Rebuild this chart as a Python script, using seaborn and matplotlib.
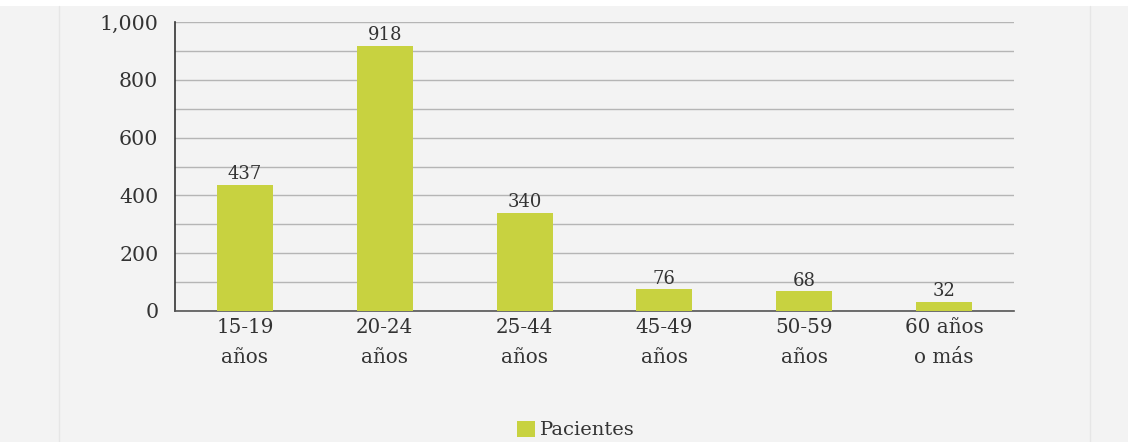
import matplotlib
matplotlib.use("Agg")
import matplotlib.pyplot as plt
import seaborn as sns
import pandas as pd
from matplotlib.ticker import MultipleLocator, FuncFormatter

# Data
grupos = ["15-19\naños", "20-24\naños", "25-44\naños", "45-49\naños", "50-59\naños", "60 años\no más"]
pacientes = [437, 918, 340, 76, 68, 32]

df = pd.DataFrame({"grupo": grupos, "pacientes": pacientes})

sns.set_style("white")
plt.rcParams['font.family'] = ['DejaVu Serif']

bg = "#f3f3f3"
bar_color = "#c8d240"
txt = "#333333"

fig = plt.figure(figsize=(11.28, 4.42), dpi=100, facecolor="white")
# gray panel
fig.patches.append(plt.Rectangle((0, 0), 1, 1 - 6/442, transform=fig.transFigure,
                                 facecolor=bg, edgecolor="none", zorder=-10))
for xline in [59/1128, 1090/1128]:
    fig.lines.append(plt.Line2D([xline, xline], [0, 1 - 6/442], transform=fig.transFigure,
                                color="#e6e6e6", linewidth=1, zorder=-9))

ax = fig.add_axes([175/1128, 1 - 311/442, (1014 - 175)/1128, (311 - 22)/442])
ax.set_facecolor(bg)
ax.patch.set_alpha(0)

sns.barplot(data=df, x="grupo", y="pacientes", color=bar_color, width=0.4,
            saturation=1, ax=ax, label="Pacientes", zorder=3, linewidth=0)

ax.set_ylim(0, 1000)
ax.set_xlim(-0.5, len(grupos) - 0.5)
ax.yaxis.set_major_locator(MultipleLocator(200))
ax.yaxis.set_minor_locator(MultipleLocator(100))
ax.yaxis.set_major_formatter(FuncFormatter(lambda v, p: f"{int(v):,}"))
ax.grid(axis="y", which="both", color="#b5b5b5", linewidth=1, zorder=0)
ax.set_axisbelow(True)

ax.set_xticks(range(len(grupos)))
ax.set_xticklabels(grupos, fontsize=14.3, color=txt, linespacing=1.75)
ax.tick_params(axis="x", which="major", length=0, pad=5)
# boundary ticks on the x axis
ax.set_xticks([i - 0.5 for i in range(len(grupos) + 1)], minor=True)
ax.tick_params(axis="x", which="minor", length=5, width=1, color=txt, direction="out")
ax.tick_params(axis="y", which="major", length=6, width=1, color=txt, labelsize=14.8,
               labelcolor=txt, direction="out", pad=6)
ax.tick_params(axis="y", which="minor", length=6, width=1, color=txt, direction="out")

for s in ["top", "right"]:
    ax.spines[s].set_visible(False)
ax.spines["left"].set_color(txt)
ax.spines["bottom"].set_color("#555555")
ax.spines["left"].set_linewidth(1.2)
ax.spines["bottom"].set_linewidth(1.2)
ax.set_xlabel("")
ax.set_ylabel("")

for c in ax.containers:
    ax.bar_label(c, fmt="%d", fontsize=13, color=txt, padding=1)

leg = ax.legend(loc="center", bbox_to_anchor=(0.478, -0.412), frameon=False,
                fontsize=14, handlelength=0.9, handleheight=0.9, handletextpad=0.3,
                borderaxespad=0)
for t in leg.get_texts():
    t.set_color(txt)

fig.savefig("out.png", dpi=100, facecolor=fig.get_facecolor())
